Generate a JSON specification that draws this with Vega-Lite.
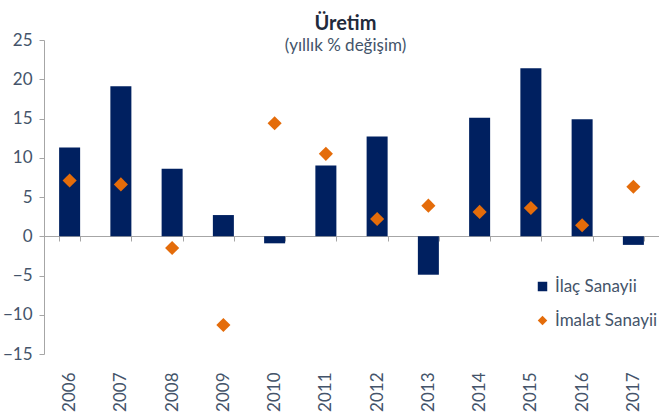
{
  "$schema": "https://vega.github.io/schema/vega-lite/v6.json",
  "width": 615,
  "height": 314,
  "autosize": {"type": "none"},
  "padding": {"left": 44, "top": 40, "right": 0, "bottom": 58},
  "background": "white",
  "config": {"view": {"stroke": null}, "font": "Lato"},
  "title": {
    "text": "Üretim",
    "subtitle": "(yıllık % değişim)",
    "font": "Lato",
    "fontSize": 20,
    "fontWeight": "bold",
    "color": "#1F2A3C",
    "subtitleFont": "Lato",
    "subtitleFontSize": 17,
    "subtitleColor": "#44546A",
    "subtitlePadding": 4,
    "anchor": "middle",
    "frame": "group",
    "offset": -23,
    "dx": -6
  },
  "data": {
    "values": [
      {"year": "2006", "series": "İlaç Sanayii", "value": 11.3},
      {"year": "2007", "series": "İlaç Sanayii", "value": 19.1},
      {"year": "2008", "series": "İlaç Sanayii", "value": 8.6},
      {"year": "2009", "series": "İlaç Sanayii", "value": 2.7},
      {"year": "2010", "series": "İlaç Sanayii", "value": -0.9},
      {"year": "2011", "series": "İlaç Sanayii", "value": 9.0},
      {"year": "2012", "series": "İlaç Sanayii", "value": 12.7},
      {"year": "2013", "series": "İlaç Sanayii", "value": -4.9},
      {"year": "2014", "series": "İlaç Sanayii", "value": 15.1},
      {"year": "2015", "series": "İlaç Sanayii", "value": 21.4},
      {"year": "2016", "series": "İlaç Sanayii", "value": 14.9},
      {"year": "2017", "series": "İlaç Sanayii", "value": -1.1},
      {"year": "2006", "series": "İmalat Sanayii", "value": 7.1},
      {"year": "2007", "series": "İmalat Sanayii", "value": 6.6},
      {"year": "2008", "series": "İmalat Sanayii", "value": -1.5},
      {"year": "2009", "series": "İmalat Sanayii", "value": -11.3},
      {"year": "2010", "series": "İmalat Sanayii", "value": 14.4},
      {"year": "2011", "series": "İmalat Sanayii", "value": 10.5},
      {"year": "2012", "series": "İmalat Sanayii", "value": 2.2},
      {"year": "2013", "series": "İmalat Sanayii", "value": 3.9},
      {"year": "2014", "series": "İmalat Sanayii", "value": 3.1},
      {"year": "2015", "series": "İmalat Sanayii", "value": 3.6},
      {"year": "2016", "series": "İmalat Sanayii", "value": 1.4},
      {"year": "2017", "series": "İmalat Sanayii", "value": 6.3}
    ]
  },
  "encoding": {
    "x": {
      "field": "year",
      "type": "ordinal",
      "scale": {"paddingInner": 0.59, "paddingOuter": 0.295},
      "axis": {
        "title": null,
        "offset": -118,
        "domainColor": "#A6A6A6",
        "tickColor": "#A6A6A6",
        "tickSize": 5,
        "tickBand": "extent",
        "labelAngle": -90,
        "labelPadding": 131,
        "labelFont": "Lato",
        "labelFontSize": 17,
        "labelColor": "#44546A"
      }
    },
    "y": {
      "field": "value",
      "type": "quantitative",
      "scale": {"domain": [-15, 25], "nice": false, "zero": false},
      "axis": {
        "title": null,
        "values": [-15, -10, -5, 0, 5, 10, 15, 20, 25],
        "grid": false,
        "domainColor": "#A6A6A6",
        "tickColor": "#A6A6A6",
        "tickSize": 5,
        "labelPadding": 7,
        "labelFont": "Lato",
        "labelFontSize": 17,
        "labelColor": "#44546A"
      }
    },
    "color": {
      "field": "series",
      "type": "nominal",
      "scale": {"domain": ["İlaç Sanayii", "İmalat Sanayii"], "range": ["#002060", "#E46C0A"]},
      "legend": {
        "title": null,
        "orient": "none",
        "legendX": 490,
        "legendY": 238,
        "labelFont": "Lato",
        "labelFontSize": 17,
        "labelColor": "#44546A",
        "labelOffset": 4,
        "rowPadding": 16,
        "symbolSize": 90
      }
    }
  },
  "layer": [
    {
      "transform": [{"filter": "datum.series === 'İlaç Sanayii'"}],
      "mark": {"type": "bar"}
    },
    {
      "transform": [{"filter": "datum.series === 'İmalat Sanayii'"}],
      "mark": {"type": "point", "filled": true, "opacity": 1, "size": 200},
      "encoding": {
        "shape": {
          "field": "series",
          "type": "nominal",
          "scale": {"domain": ["İlaç Sanayii", "İmalat Sanayii"], "range": ["square", "diamond"]},
          "legend": {
            "title": null,
            "orient": "none",
            "legendX": 490,
            "legendY": 238,
            "labelFont": "Lato",
            "labelFontSize": 17,
            "labelColor": "#44546A",
            "labelOffset": 4,
            "rowPadding": 16,
            "symbolSize": 90
          }
        }
      }
    }
  ]
}
